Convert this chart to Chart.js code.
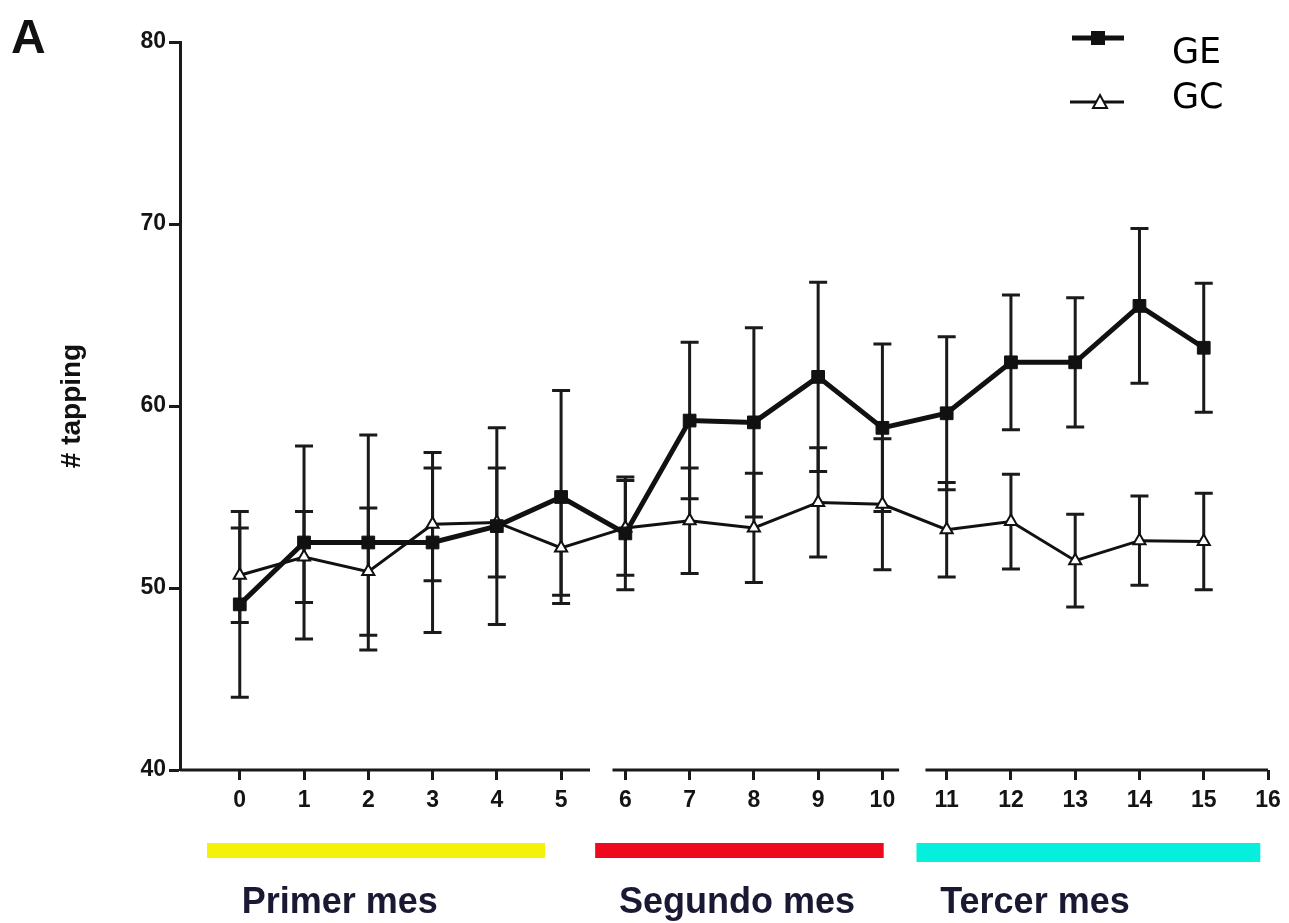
<!DOCTYPE html>
<html>
<head>
<meta charset="utf-8">
<script src="https://cdn.jsdelivr.net/npm/chart.js@4.4.0/dist/chart.umd.min.js"></script>
<style>
  body { margin: 0; background: #fff; }
  #wrap { width: 1289px; height: 923px; position: relative; }
</style>
</head>
<body>
<div id="wrap"><canvas id="myChart"></canvas></div>
<script>
// sessions (x values)
const sessions = [0, 1, 2, 3, 4, 5, 6, 7, 8, 9, 10, 11, 12, 13, 14, 15];
const xTicks = [0, 1, 2, 3, 4, 5, 6, 7, 8, 9, 10, 11, 12, 13, 14, 15, 16];
const yTicks = [40, 50, 60, 70, 80];

// GE group (filled squares)
const geMean = [49.1, 52.5, 52.5, 52.5, 53.4, 55.0, 53.0, 59.2, 59.1, 61.6, 58.8, 59.6, 62.4, 62.4, 65.5, 63.2];
const geErr = [5.1, 5.3, 5.9, 4.95, 5.4, 5.85, 3.1, 4.3, 5.2, 5.2, 4.6, 4.2, 3.7, 3.55, 4.25, 3.55];

// GC group (open triangles)
const gcMean = [50.7, 51.7, 50.9, 53.5, 53.6, 52.2, 53.3, 53.7, 53.3, 54.7, 54.6, 53.2, 53.65, 51.5, 52.6, 52.55];
const gcErr = [2.6, 2.5, 3.5, 3.1, 3.0, 2.6, 2.6, 2.9, 3.0, 3.0, 3.6, 2.6, 2.6, 2.55, 2.45, 2.65];

// month bands under the axis (x units)
const monthNames = ["Primer mes", "Segundo mes", "Tercer mes"];
const monthStart = [-0.51, 5.53, 10.53];
const monthEnd = [4.75, 10.02, 15.88];
const monthLabelX = [0.03, 5.9, 10.9];
const monthColors = ["#f4f20a", "#ee0a1c", "#06efdc"];

// broken x axis pieces
const axisPieces = [[-0.93, 5.45], [5.8, 10.26], [10.67, 16]];

const errorBars = {
  id: "errorBars",
  beforeDatasetsDraw(chart) {
    const { ctx, scales: { x, y } } = chart;
    const groups = [[geMean, geErr], [gcMean, gcErr]];
    ctx.save();
    ctx.strokeStyle = "#1a1a1a";
    ctx.lineWidth = 3;
    groups.forEach(([m, e]) => {
      sessions.forEach((s, i) => {
        const px = x.getPixelForValue(s);
        const top = y.getPixelForValue(m[i] + e[i]);
        const bot = y.getPixelForValue(m[i] - e[i]);
        ctx.beginPath();
        ctx.moveTo(px, top); ctx.lineTo(px, bot);
        ctx.moveTo(px - 9, top); ctx.lineTo(px + 9, top);
        ctx.moveTo(px - 9, bot); ctx.lineTo(px + 9, bot);
        ctx.stroke();
      });
    });
    ctx.restore();
  }
};

const decor = {
  id: "decor",
  afterDraw(chart) {
    const { ctx, chartArea, scales: { x } } = chart;
    ctx.save();
    // broken x axis
    ctx.strokeStyle = "#1a1a1a";
    ctx.lineWidth = 3;
    axisPieces.forEach(([a, b]) => {
      ctx.beginPath();
      ctx.moveTo(x.getPixelForValue(a), chartArea.bottom);
      ctx.lineTo(x.getPixelForValue(b), chartArea.bottom);
      ctx.stroke();
    });

    // month bands and labels
    monthNames.forEach((name, i) => {
      const x0 = x.getPixelForValue(monthStart[i]);
      const x1 = x.getPixelForValue(monthEnd[i]);
      ctx.fillStyle = monthColors[i];
      ctx.fillRect(x0, 843, x1 - x0, i === 2 ? 19 : 15);
      ctx.fillStyle = "#191933";
      ctx.font = "bold 36px 'Liberation Sans', Arial, sans-serif";
      ctx.textAlign = "left";
      ctx.textBaseline = "alphabetic";
      ctx.fillText(name, x.getPixelForValue(monthLabelX[i]), 913);
    });

    // panel letter
    ctx.fillStyle = "#111";
    ctx.font = "bold 48px 'Liberation Sans', Arial, sans-serif";
    ctx.fillText("A", 11, 53);

    // legend
    ctx.strokeStyle = "#111";
    ctx.lineWidth = 5;
    ctx.beginPath(); ctx.moveTo(1072, 38); ctx.lineTo(1124, 38); ctx.stroke();
    ctx.fillStyle = "#111";
    ctx.fillRect(1091, 31, 14, 14);
    ctx.lineWidth = 3;
    ctx.beginPath(); ctx.moveTo(1070, 102); ctx.lineTo(1124, 102); ctx.stroke();
    ctx.beginPath();
    ctx.moveTo(1100, 95); ctx.lineTo(1107, 108); ctx.lineTo(1093, 108); ctx.closePath();
    ctx.fillStyle = "#fff"; ctx.fill();
    ctx.lineWidth = 2; ctx.stroke();
    ctx.fillStyle = "#000";
    ctx.font = "35px 'DejaVu Sans', sans-serif";
    ctx.fillText("GE", 1172, 63);
    ctx.fillText("GC", 1172, 108);
    ctx.restore();
  }
};

const tickFont = { family: "'Liberation Sans', Arial, sans-serif", size: 23, weight: "bold" };

new Chart(document.getElementById("myChart"), {
  type: "line",
  data: {
    datasets: [
      {
        label: "GE",
        data: sessions.map((s, i) => ({ x: s, y: geMean[i] })),
        borderColor: "#111",
        borderWidth: 5,
        pointStyle: "rect",
        pointRadius: 9,
        pointBackgroundColor: "#111",
        pointBorderColor: "#111",
        pointBorderWidth: 1,
        tension: 0
      },
      {
        label: "GC",
        data: sessions.map((s, i) => ({ x: s, y: gcMean[i] })),
        borderColor: "#111",
        borderWidth: 3,
        pointStyle: "triangle",
        pointRadius: 7,
        pointBackgroundColor: "#fff",
        pointBorderColor: "#111",
        pointBorderWidth: 2,
        tension: 0
      }
    ]
  },
  options: {
    responsive: true,
    maintainAspectRatio: false,
    animation: false,
    layout: { padding: { left: 0, top: 42, right: 21, bottom: 0 } },
    plugins: { legend: { display: false }, tooltip: { enabled: false } },
    scales: {
      x: {
        type: "linear",
        min: -0.93,
        max: 16,
        afterBuildTicks: (scale) => { scale.ticks = xTicks.map(v => ({ value: v })); },
        afterFit: (scale) => { scale.height = 153; },
        border: { display: false },
        grid: {
          drawOnChartArea: false,
          drawTicks: true,
          tickLength: 10,
          tickColor: "#1a1a1a",
          tickWidth: 3
        },
        ticks: { color: "#141414", font: tickFont, padding: 7, maxRotation: 0, autoSkip: false }
      },
      y: {
        min: 40,
        max: 80,
        afterBuildTicks: (scale) => { scale.ticks = yTicks.map(v => ({ value: v })); },
        afterFit: (scale) => { scale.width = 180; },
        border: { display: true, color: "#1a1a1a", width: 3 },
        grid: {
          drawOnChartArea: false,
          drawTicks: true,
          tickLength: 11,
          tickColor: "#1a1a1a",
          tickWidth: 3
        },
        ticks: { color: "#141414", font: tickFont, padding: 3 },
        title: {
          display: true,
          text: "# tapping",
          color: "#111",
          font: { family: "'Liberation Sans', Arial, sans-serif", size: 28, weight: "bold", lineHeight: 1 },
          padding: { top: 58, bottom: 0 }
        }
      }
    }
  },
  plugins: [errorBars, decor]
});
</script>
</body>
</html>
